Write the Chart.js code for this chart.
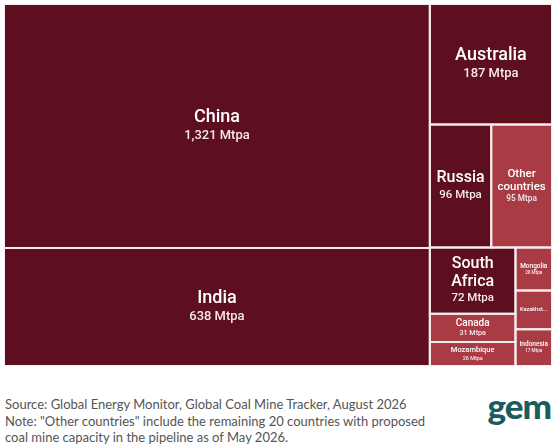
<!DOCTYPE html>
<html>
<head>
<meta charset="utf-8">
<script src="https://cdn.jsdelivr.net/npm/chart.js@4.4.1/dist/chart.umd.min.js"></script>
<style>
    body { margin: 0; background: #fff; width: 556px; height: 444px; overflow: hidden; position: relative; }
    #wrap { position: absolute; left: 0; top: 0; width: 556px; height: 370px; }
    #note { position: absolute; left: 5px; top: 396px; font-family: Lato, sans-serif; font-size: 13px; line-height: 16.5px; color: #555; }
    #logo { position: absolute; right: 5px; top: 384px; font-family: Lato, sans-serif; font-size: 35px; font-weight: 900; color: #1c5b5e; letter-spacing: -1px; }
</style>
</head>
<body>
<div id="wrap"><canvas id="treemap"></canvas></div>
<div id="note">Source: Global Energy Monitor, Global Coal Mine Tracker, August 2026<br>Note: "Other countries" include the remaining 20 countries with proposed<br>coal mine capacity in the pipeline as of May 2026.</div>
<div id="logo">gem</div>
<script>
// Proposed coal mine capacity, Mtpa
const countries = ['China', 'India', 'Australia', 'Russia', 'Other countries', 'South Africa',
    'Canada', 'Mozambique', 'Mongolia', 'Kazakhstan', 'Indonesia'];
const capacity = [1321, 638, 187, 96, 95, 72, 31, 26, 20, 18, 17];
const group = ['major', 'major', 'major', 'major', 'rest', 'major',
    'rest', 'rest', 'rest', 'rest', 'rest'];

const groupColor = { major: '#5d0f20', rest: '#a93b44' };
const LABEL_FONT = 'Roboto, "Noto Sans", sans-serif';

// layout space = chart area in px
const W = 546, H = 360;

// squarified treemap (same steps as d3.treemapSquarify, ratio 2)
function squarify(values, x0, y0, x1, y1, ratio) {
    let rects = [];
    let n = values.length, i0 = 0, i1 = 0;
    let value = values.reduce((a, b) => a + b, 0);
    while (i0 < n) {
        let dx = x1 - x0, dy = y1 - y0;
        let sum = values[i1++];
        let minV = sum, maxV = sum;
        let alpha = Math.max(dy / dx, dx / dy) / (value * ratio);
        let beta = sum * sum * alpha;
        let minRatio = Math.max(maxV / beta, beta / minV);
        for (; i1 < n; ++i1) {
            let v = values[i1];
            sum += v;
            if (v < minV) minV = v;
            if (v > maxV) maxV = v;
            beta = sum * sum * alpha;
            let r = Math.max(maxV / beta, beta / minV);
            if (r > minRatio) { sum -= v; break; }
            minRatio = r;
        }
        if (dx < dy) {
            let yy = y0 + dy * sum / value, x = x0;
            for (let i = i0; i < i1; i++) {
                let w = dx * values[i] / sum;
                rects[i] = { x0: x, x1: x + w, y0: y0, y1: yy };
                x += w;
            }
            y0 = yy;
        } else {
            let xx = x0 + dx * sum / value, y = y0;
            for (let i = i0; i < i1; i++) {
                let h = dy * values[i] / sum;
                rects[i] = { x0: x0, x1: xx, y0: y, y1: y + h };
                y += h;
            }
            x0 = xx;
        }
        value -= sum;
        i0 = i1;
    }
    return rects;
}

const cells = squarify(capacity, 0, 0, W, H, 2);

function fmt(v) {
    return v.toLocaleString('en-US') + ' Mtpa';
}

function fitLabel(ctx, name, val, w, h) {
    let padX = Math.max(4, w * 0.1), padY = Math.max(4, h * 0.12);
    for (let s = 18; s >= 6; s -= 0.5) {
        ctx.font = `500 ${s}px ${LABEL_FONT}`;
        let lines = [name];
        if (ctx.measureText(name).width > w - 2 * padX) lines = name.split(' ');
        let nameW = Math.max(...lines.map(l => ctx.measureText(l).width));
        let vs = s * 0.72;
        ctx.font = `500 ${vs}px ${LABEL_FONT}`;
        let valW = ctx.measureText(val).width;
        let blockH = lines.length * s * 1.1 + vs * 1.3;
        if (Math.max(nameW, valW) <= w - 2 * padX && blockH <= h - 2 * padY) {
            return { s, vs, lines, showVal: true };
        }
    }
    // too small: cut the name, no value
    let s = 5.5;
    ctx.font = `500 ${s}px ${LABEL_FONT}`;
    let txt = name;
    while (txt.length > 1 && ctx.measureText(txt + '...').width > w - 2 * padX) {
        txt = txt.slice(0, -1);
    }
    return { s, vs: 0, lines: [txt + '...'], showVal: false };
}

const cellLabels = {
    id: 'cellLabels',
    afterDatasetsDraw(chart) {
        const { ctx } = chart;
        const xs = chart.scales.x, ys = chart.scales.y;
        ctx.save();
        ctx.textAlign = 'center';
        ctx.textBaseline = 'middle';
        cells.forEach((r, i) => {
            let left = xs.getPixelForValue(r.x0), right = xs.getPixelForValue(r.x1);
            let top = ys.getPixelForValue(r.y0), bottom = ys.getPixelForValue(r.y1);
            let w = right - left, h = bottom - top;
            let val = fmt(capacity[i]);
            let f = fitLabel(ctx, countries[i], val, w, h);
            let blockH = f.lines.length * f.s * 1.1 + (f.showVal ? f.vs * 1.3 : 0);
            let cx = (left + right) / 2;
            let y = (top + bottom) / 2 - blockH / 2;
            ctx.fillStyle = '#ffffff';
            ctx.font = `500 ${f.s}px ${LABEL_FONT}`;
            f.lines.forEach(l => {
                ctx.fillText(l, cx, y + f.s * 0.55);
                y += f.s * 1.1;
            });
            if (f.showVal) {
                ctx.fillStyle = '#f6e9eb';
                ctx.font = `500 ${f.vs}px ${LABEL_FONT}`;
                ctx.fillText(val, cx, y + f.vs * 0.65);
            }
        });
        ctx.restore();
    }
};

let datasets = cells.map((r, i) => ({
    label: countries[i],
    data: [
        { x: r.x0, y: r.y0 }, { x: r.x1, y: r.y0 },
        { x: r.x1, y: r.y1 }, { x: r.x0, y: r.y1 },
        { x: r.x0, y: r.y0 }
    ],
    showLine: true,
    fill: 'shape',
    backgroundColor: groupColor[group[i]],
    borderColor: '#f7eced',
    borderWidth: 2,
    borderJoinStyle: 'miter',
    pointRadius: 0,
    pointHoverRadius: 0,
    tension: 0
}));

let ctxTree = document.getElementById('treemap').getContext('2d');
let treemapChart = new Chart(ctxTree, {
    type: 'scatter',
    data: { datasets: datasets },
    options: {
        responsive: true,
        maintainAspectRatio: false,
        animation: false,
        layout: { padding: { left: 4, right: 4, top: 4, bottom: 4 } },
        scales: {
            x: { type: 'linear', min: 0, max: W, display: false },
            y: { type: 'linear', min: 0, max: H, reverse: true, display: false }
        },
        plugins: {
            legend: { display: false },
            tooltip: { enabled: false },
            filler: { drawTime: 'beforeDatasetsDraw' }
        }
    },
    plugins: [cellLabels]
});
</script>
</body>
</html>
